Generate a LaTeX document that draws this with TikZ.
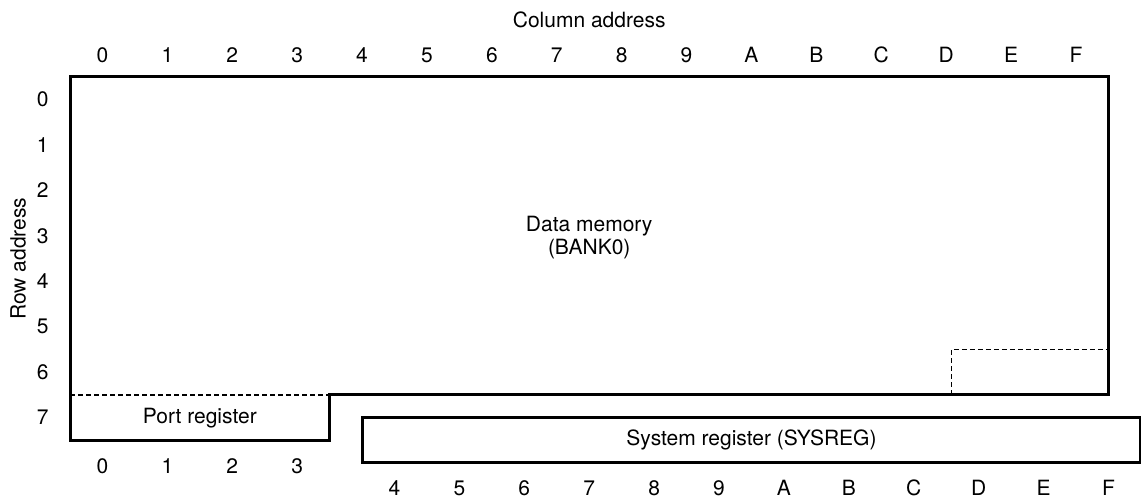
\documentclass[tikz,border=0pt]{standalone}
\usepackage{fontspec}
\setmainfont{TeX Gyre Heros}

\begin{document}
\begin{tikzpicture}[x=64.9pt,y=-45.4pt,
    lbl/.style={font=\fontsize{21}{23}\selectfont, inner sep=0pt},
    wall/.style={line width=3pt, line join=miter},
    split/.style={line width=1.6pt, dash pattern=on 5pt off 3pt}]
  \useasboundingbox (-1.0786,-1.696) rectangle (16.502,9.317);

  % Data memory outline
  \draw[wall] (0,0) -- (16,0) -- (16,7) -- (4,7) -- (4,8) -- (0,8) -- cycle;

  % Dashed borders
  \draw[split] (0,7) -- (4,7);
  \draw[split] (13.58,7) -- (13.58,6) -- (16,6);

  % System register
  \node[lbl, draw, line width=3pt, minimum width=778.8pt, minimum height=45.4pt] (sysreg) at (10.5,8) {System register (SYSREG)};

  % Area labels
  \node[lbl, align=center] (datamem) at (8,3.54) {Data memory\\(BANK0)};
  \node[lbl] (portreg) at (2,7.52) {Port register};

  % Addresses
  \node[lbl] (coltitle) at (8,-1.255) {Column address};
  \node[lbl, rotate=90] (rowtitle) at (-0.8,4) {Row address};
  \foreach \lab [count=\i from 0] in {0,1,2,3,4,5,6,7,8,9,A,B,C,D,E,F}
    \node[lbl] (top\i) at (\i+0.5,-0.48) {\lab};
  \foreach \lab [count=\i from 0] in {0,1,2,3}
    \node[lbl] (port\i) at (\i+0.5,8.57) {\lab};
  \foreach \lab [count=\i from 4] in {4,5,6,7,8,9,A,B,C,D,E,F}
    \node[lbl] (sys\i) at (\i+1,9.05) {\lab};
  \foreach \i in {0,...,7}
    \node[lbl] (row\i) at (-0.42,\i+0.5) {\i};
\end{tikzpicture}
\end{document}
